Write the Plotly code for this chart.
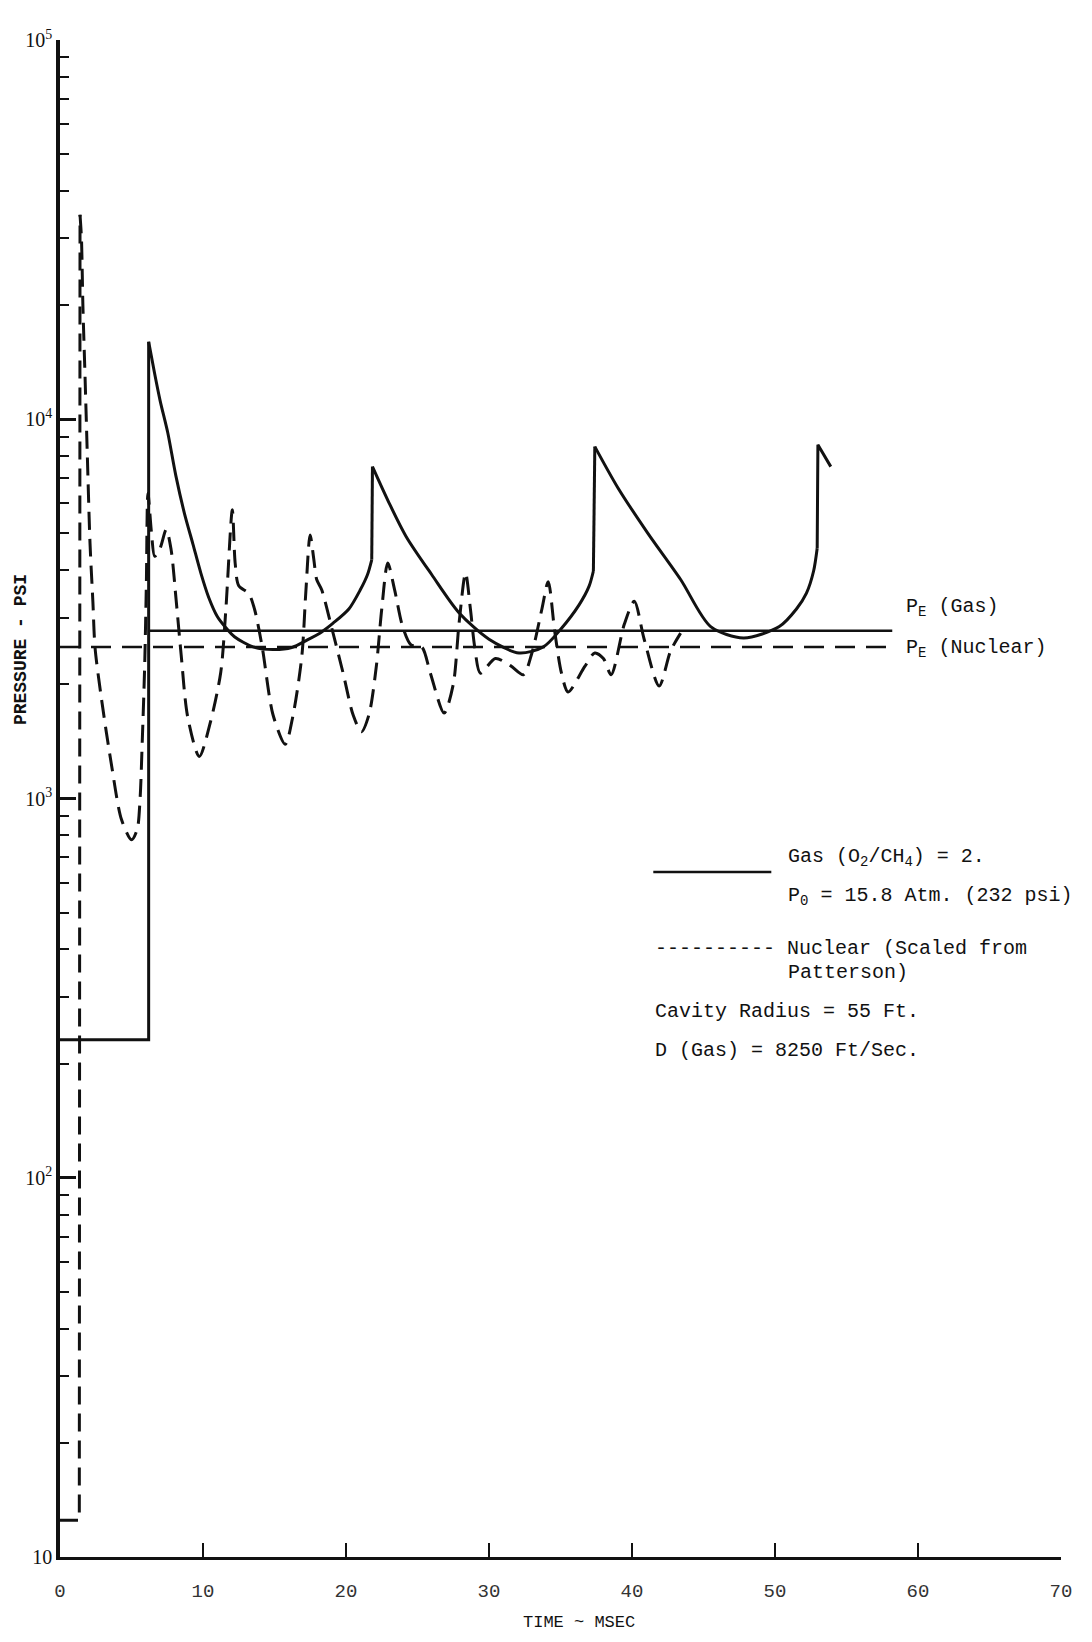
import plotly.graph_objects as go

# ---------------- data ----------------
# Gas detonation (solid curve): time in msec, pressure in psi
gas_time = [0, 6.2, 6.2, 6.6, 7.0, 7.54, 8.1, 8.7, 9.3, 9.85, 10.4, 11.0, 11.6, 12.2,
            13.5, 14.9, 16.2, 17.3, 18.3, 19.1, 20.2, 21.0, 21.5, 21.8, 21.85,
            23.0, 24.2, 26.0, 27.9, 30.0, 32.1, 33.8, 35.0, 36.3, 37.0, 37.3, 37.4,
            39.0, 41.1, 43.4, 45.5, 47.8, 50.3, 51.5, 52.2, 52.7, 52.95, 53.0, 53.9]
gas_psi = [231, 231, 16000, 13300, 11200, 9200, 7100, 5650, 4680, 3930, 3390, 3020, 2820, 2670,
           2510, 2470, 2500, 2620, 2750, 2900, 3160, 3550, 3890, 4260, 7500,
           6030, 4910, 3890, 3090, 2630, 2420, 2510, 2790, 3240, 3630, 3980, 8470,
           6610, 5010, 3780, 2840, 2650, 2840, 3160, 3480, 3980, 4570, 8570, 7500]
# index ranges of the gas curve: smooth arcs between the shock jumps
gas_arcs = [(2, 23), (24, 35), (36, 46)]
gas_jumps = [(0, 2), (23, 24), (35, 36), (46, 48)]

# Nuclear (dashed curve, scaled from Patterson)
nuc_time = [0, 1.35, 1.4, 1.5, 1.6, 1.75, 1.9, 2.1, 2.3, 2.45, 2.91, 3.61, 4.3, 5.0, 5.4, 5.6,
            5.75, 5.92, 6.04, 6.15, 6.4, 6.62, 7.0, 7.43, 7.77, 8.12, 8.47, 8.93, 9.74,
            10.5, 11.24, 11.6, 12.05, 12.25, 12.5, 13.2, 13.6, 14.14, 14.9, 15.75, 16.3,
            16.91, 17.2, 17.49, 17.75, 17.95, 18.3, 19.0, 19.8, 20.5, 21.08, 21.6, 22.12,
            22.5, 22.92, 23.4, 23.96, 24.55, 25.3, 25.9, 26.86, 27.5, 27.9, 28.36, 28.7,
            29.0, 29.4, 30.44, 31.5, 32.4, 33.0, 33.7, 34.14, 34.6, 35.07, 35.53, 36.7,
            37.4, 38.0, 38.54, 39.46, 40.16, 40.85, 41.9, 42.7, 43.4]
nuc_psi = [12.5, 12.5, 34600, 30000, 20000, 13000, 8300, 4700, 3300, 2500, 1820, 1220, 880, 778, 830, 1000,
           1410, 2230, 3700, 6380, 5010, 4350, 4570, 5120, 4530, 3340, 2400, 1640, 1290,
           1580, 2150, 3160, 5770, 4170, 3640, 3470, 3160, 2510, 1660, 1390, 1660,
           2370, 3550, 4950, 4270, 3780, 3550, 2820, 2140, 1660, 1500, 1660, 2230,
           3160, 4180, 3550, 2840, 2540, 2510, 2140, 1680, 2000, 2880, 3930, 3160,
           2510, 2140, 2340, 2240, 2120, 2420, 3160, 3730, 2750, 2140, 1910, 2230,
           2420, 2340, 2120, 2880, 3310, 2630, 1980, 2450, 2730]
nuc_arcs = [(2, len(nuc_time) - 1)]
nuc_jumps = [(0, 2)]

# Equilibrium pressures
pe_gas_time = [6.2, 58.2]
pe_gas_psi = [2770, 2770]
pe_nuc_time = [0, 58.2]
pe_nuc_psi = [2510, 2510]

x_ticks = [0, 10, 20, 30, 40, 50, 60, 70]
y_ticks = [10, 100, 1000, 10000, 100000]
y_tick_text = ["10", "10<sup>2</sup>", "10<sup>3</sup>", "10<sup>4</sup>", "10<sup>5</sup>"]
y_minor = [m * 10 ** e for e in range(1, 5) for m in range(2, 10)]

legend_lines = [
    ("Gas (O<sub>2</sub>/CH<sub>4</sub>) = 2.", 0.7255, 0.4608),
    ("P<sub>0</sub> = 15.8 Atm. (232 psi)", 0.7255, 0.4351),
    ("---------- Nuclear (Scaled from", 0.5927, 0.4014),
    ("Patterson)", 0.7255, 0.3850),
    ("Cavity Radius = 55 Ft.", 0.5927, 0.3593),
    ("D (Gas) = 8250 Ft/Sec.", 0.5927, 0.3342),
    ("P<sub>E</sub> (Gas)", 0.8434, 0.6262),
    ("P<sub>E</sub> (Nuclear)", 0.8434, 0.5986),
]

MONO = "Liberation Mono, Courier New, monospace"
SERIF = "Liberation Serif, DejaVu Serif, serif"
INK = "#111111"

fig = go.Figure()
fig.add_trace(go.Scatter(x=pe_nuc_time, y=pe_nuc_psi, mode="lines",
                         line=dict(color=INK, width=2.5, dash="20px,11px"), showlegend=False))
fig.add_trace(go.Scatter(x=pe_gas_time, y=pe_gas_psi, mode="lines",
                         line=dict(color=INK, width=2.5), showlegend=False))


def add_pieces(t, p, arcs, jumps, dash):
    for i0, i1 in jumps:
        fig.add_trace(go.Scatter(x=t[i0:i1 + 1], y=p[i0:i1 + 1], mode="lines",
                                 line=dict(color=INK, width=3, dash=dash),
                                 showlegend=False))
    for i0, i1 in arcs:
        fig.add_trace(go.Scatter(x=t[i0:i1 + 1], y=p[i0:i1 + 1], mode="lines",
                                 line=dict(color=INK, width=3, dash=dash,
                                           shape="spline", smoothing=0.8),
                                 showlegend=False))


add_pieces(nuc_time, nuc_psi, nuc_arcs, nuc_jumps, "18px,9px")
add_pieces(gas_time, gas_psi, gas_arcs, gas_jumps, "solid")

annotations = []
for txt, xp, yp in legend_lines:
    annotations.append(dict(text=txt, x=xp, y=yp, xref="paper", yref="paper",
                            xanchor="left", yanchor="middle", showarrow=False,
                            font=dict(family=MONO, size=20, color=INK)))
annotations.append(dict(text="TIME ~ MSEC", x=0.5183, y=-0.0435, xref="paper", yref="paper",
                        xanchor="center", yanchor="middle", showarrow=False,
                        font=dict(family=MONO, size=17, color=INK)))
annotations.append(dict(text="<b>PRESSURE - PSI</b>", x=-0.0387, y=0.598, xref="paper", yref="paper",
                        xanchor="center", yanchor="middle", showarrow=False, textangle=-90,
                        font=dict(family=MONO, size=18, color=INK)))

fig.update_layout(
    width=1076, height=1626,
    margin=dict(l=52, r=16, t=32, b=77),
    paper_bgcolor="white", plot_bgcolor="white",
    annotations=annotations,
    shapes=[dict(type="line", xref="paper", yref="paper", x0=0.5927, x1=0.7106,
                 y0=0.4515, y1=0.4515, line=dict(color=INK, width=2.5))],
)
fig.update_xaxes(range=[0, 70], tickvals=x_ticks, ticks="inside", ticklen=14, tickwidth=2,
                 tickcolor=INK, showline=True, linewidth=2.5, linecolor=INK, showgrid=False,
                 zeroline=False, ticklabelstandoff=14,
                 tickfont=dict(family=MONO, size=19, color="#333"))
fig.update_yaxes(type="log", range=[1, 5], tickvals=y_ticks, ticktext=y_tick_text,
                 ticks="inside", ticklen=16, tickwidth=2.5, tickcolor=INK,
                 showline=True, linewidth=3.5, linecolor=INK, showgrid=False, zeroline=False,
                 minor=dict(tickvals=y_minor, ticks="inside", ticklen=9, tickwidth=2, tickcolor=INK,
                            showgrid=False),
                 tickfont=dict(family=SERIF, size=20, color=INK))

fig.write_html("out.html")
